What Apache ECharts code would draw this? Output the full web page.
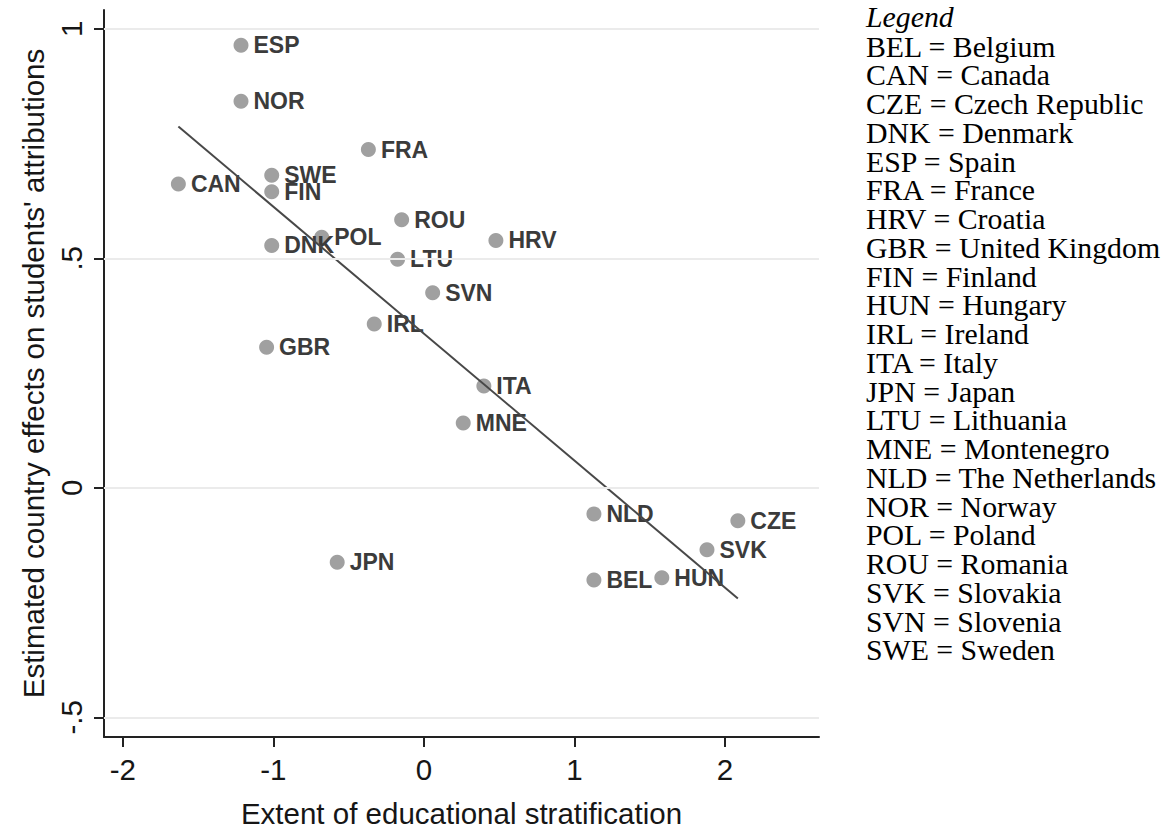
<!DOCTYPE html>
<html>
<head>
<meta charset="utf-8">
<script src="https://cdn.jsdelivr.net/npm/echarts@6/dist/echarts.min.js"></script>
<style>
  html, body { margin: 0; padding: 0; background: #ffffff; }
  #chart { width: 1169px; height: 828px; }
</style>
</head>
<body>
<div id="chart"></div>
<script>
// Country codes with stratification index (x) and estimated country effect (y)
const countries = ['BEL','CAN','CZE','DNK','ESP','FRA','HRV','GBR','FIN','HUN','IRL',
                   'ITA','JPN','LTU','MNE','NLD','NOR','POL','ROU','SVK','SVN','SWE'];
const stratification = [1.129, -1.631, 2.085, -1.011, -1.215, -0.369, 0.478, -1.045, -1.011, 1.580, -0.330,
                        0.398, -0.576, -0.175, 0.261, 1.129, -1.215, -0.679, -0.148, 1.880, 0.058, -1.011];
const countryEffects = [-0.201, 0.662, -0.072, 0.528, 0.964, 0.737, 0.539, 0.306, 0.645, -0.196, 0.357,
                        0.222, -0.162, 0.498, 0.141, -0.057, 0.842, 0.546, 0.584, -0.135, 0.425, 0.681];

// Fitted line end points
const fitX = [-1.631, 2.085];
const fitY = [0.787, -0.241];

// Axis ticks and their printed labels
const xTicks = [-2, -1, 0, 1, 2];
const yTicks = [-0.5, 0, 0.5, 1];
const yTickLabels = ['-.5', '0', '.5', '1'];

// Key of country codes
const legendTitle = 'Legend';
const legendCodes = ['BEL','CAN','CZE','DNK','ESP','FRA','HRV','GBR','FIN','HUN','IRL',
                     'ITA','JPN','LTU','MNE','NLD','NOR','POL','ROU','SVK','SVN','SWE'];
const legendNames = ['Belgium','Canada','Czech Republic','Denmark','Spain','France','Croatia',
                     'United Kingdom','Finland','Hungary','Ireland','Italy','Japan','Lithuania',
                     'Montenegro','The Netherlands','Norway','Poland','Romania','Slovakia',
                     'Slovenia','Sweden'];

const sans = '"Liberation Sans", Arial, Helvetica, sans-serif';
const serif = '"Liberation Serif", "Times New Roman", serif';
const axisColor = '#222222';
const textColor = '#161616';

const points = countries.map((c, i) => ({ name: c, value: [stratification[i], countryEffects[i]] }));
const fitLine = fitX.map((x, i) => [x, fitY[i]]);

// Right-hand key, one text row per country
const keyLeft = 866;
const keyTop = 16;
const keyFirstRow = 46;
const keyStep = 28.76;
const keyFont = 29.8;
const keyGraphics = [{
  type: 'text', x: keyLeft, y: keyTop,
  style: { text: legendTitle, font: 'italic ' + keyFont + 'px ' + serif, fill: '#000',
           verticalAlign: 'middle', lineHeight: 27 }
}].concat(legendCodes.map((code, i) => ({
  type: 'text', x: keyLeft, y: keyFirstRow + i * keyStep,
  style: { text: code + ' = ' + legendNames[i], font: keyFont + 'px ' + serif, fill: '#000',
           verticalAlign: 'middle', lineHeight: 27 }
})));

const chart = echarts.init(document.getElementById('chart'), null, { renderer: 'svg' });
chart.setOption({
  animation: false,
  backgroundColor: '#ffffff',
  grid: { left: 104, right: 350, top: 10, bottom: 91, containLabel: false, outerBoundsMode: 'none' },
  xAxis: {
    type: 'value',
    min: -2.125, max: 2.624,
    name: 'Extent of educational stratification',
    nameLocation: 'middle',
    nameGap: 61,
    nameTextStyle: { fontFamily: sans, fontSize: 29.5, color: textColor },
    axisLine: { show: true, onZero: false, lineStyle: { color: axisColor, width: 2 } },
    axisTick: { show: true, customValues: xTicks, length: 10, lineStyle: { color: axisColor, width: 2 } },
    axisLabel: { customValues: xTicks, fontFamily: sans, fontSize: 29.5, color: textColor, margin: 17 },
    splitLine: { show: false }
  },
  yAxis: {
    type: 'value',
    min: -0.543, max: 1.041,
    name: "Estimated country effects on students' attributions",
    nameLocation: 'middle',
    nameGap: 54,
    nameTextStyle: { fontFamily: sans, fontSize: 29.5, color: textColor },
    axisLine: { show: true, onZero: false, lineStyle: { color: axisColor, width: 2 } },
    axisTick: { show: true, customValues: yTicks, length: 10, lineStyle: { color: axisColor, width: 2 } },
    axisLabel: {
      customValues: yTicks, rotate: 90, fontFamily: sans, fontSize: 29.5, color: textColor, margin: 18,
      formatter: v => yTickLabels[yTicks.indexOf(v)] ?? ''
    },
    splitLine: { show: false }
  },
  graphic: keyGraphics,
  series: [
    {
      // horizontal reference lines at the y ticks
      type: 'line',
      data: [],
      silent: true,
      z: 1,
      markLine: {
        silent: true,
        symbol: 'none',
        label: { show: false },
        lineStyle: { color: '#ebebeb', width: 2, type: 'solid' },
        data: yTicks.map(v => ({ yAxis: v }))
      }
    },
    {
      type: 'scatter',
      data: points,
      symbolSize: 15,
      z: 2,
      itemStyle: { color: '#a0a0a0', opacity: 1 },
      label: {
        show: true, position: 'right', distance: 5,
        formatter: '{b}',
        fontFamily: sans, fontSize: 23, fontWeight: 'bold', color: '#3b3b3b'
      }
    },
    {
      type: 'line',
      data: fitLine,
      showSymbol: false,
      silent: true,
      z: 3,
      lineStyle: { color: '#484848', width: 2 }
    }
  ]
});
</script>
</body>
</html>
